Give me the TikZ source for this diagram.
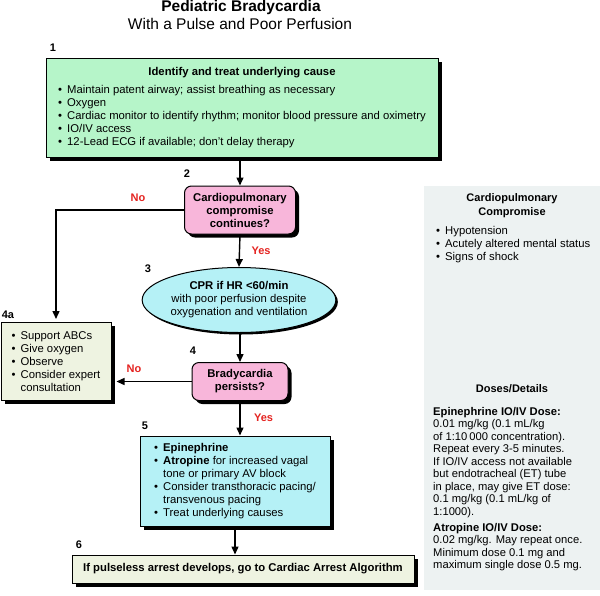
\documentclass[tikz,border=0pt]{standalone}
\usepackage{fontspec}
\setmainfont{Liberation Sans}
\usetikzlibrary{positioning, calc, arrows.meta, shapes.geometric, shadows}
\definecolor{Mint}{HTML}{B6F5C9}
\definecolor{Rosa}{HTML}{F8B6DA}
\definecolor{Ciano}{HTML}{B5F1F6}
\definecolor{Crema}{HTML}{EEF3E1}
\definecolor{Nebbia}{HTML}{EDF2F2}
\definecolor{Rosso}{HTML}{E42320}
\newcommand{\bul}{\makebox[9pt][l]{\textbullet}}
\newcommand{\cont}{\hspace*{9pt}}
\tikzset{
    body/.style={font=\fontsize{11.3}{13}\selectfont},
    ombra/.style={drop shadow={shadow xshift=3.5pt, shadow yshift=-3.5pt, fill=black, opacity=1}},
    boxnode/.style={rectangle, draw=black, line width=1pt, inner sep=0pt, ombra, body, align=left},
    decnode/.style={rectangle, rounded corners=7pt, draw=black, line width=1pt, fill=Rosa, inner sep=0pt, ombra, align=center, font=\fontsize{11.3}{13}\selectfont\bfseries},
    stepnum/.style={font=\fontsize{11}{13}\selectfont\bfseries},
    answer/.style={font=\fontsize{11}{13}\selectfont\bfseries, text=Rosso},
    arrow/.style={-{Triangle[length=8pt,width=7pt]}, line width=1.4pt},
}
\begin{document}
\begin{tikzpicture}[x=1pt, y=-1pt]
    \useasboundingbox (0,0) rectangle (600,595);
    % Titolo
    \node[anchor=base, font=\fontsize{15.5}{18}\selectfont\bfseries] (title) at (241,11) {Pediatric Bradycardia};
    \node[anchor=base, font=\fontsize{15.5}{18}\selectfont] (subtitle) at (240,29.5) {With a Pulse and Poor Perfusion};

    % Pannello laterale
    \node[fill=Nebbia, minimum width=176pt, minimum height=404pt, inner sep=0pt] (panel) at (512,388) {};
    \node[align=center, font=\fontsize{11}{14}\selectfont\bfseries] (cpc) at (512,206) {Cardiopulmonary\\Compromise};
    \node[anchor=west, align=left, body, inner sep=0pt] (cplist) at (436,245) {\bul Hypotension\\\bul Acutely altered mental status\\\bul Signs of shock};
    \node[font=\fontsize{11}{13}\selectfont\bfseries] (doses) at (512,389) {Doses/Details};
    \node[anchor=north west, align=left, inner sep=0pt, font=\fontsize{11.2}{12.5}\selectfont] (dosetext) at (433,407) {\textbf{Epinephrine IO/IV Dose:}\\
        0.01 mg/kg (0.1 mL/kg\\
        of 1:10\,000 concentration).\\
        Repeat every 3-5 minutes.\\
        If IO/IV access not available\\
        but endotracheal (ET) tube\\
        in place, may give ET dose:\\
        0.1 mg/kg (0.1 mL/kg of\\
        1:1000).\\[3.5pt]
        \textbf{Atropine IO/IV Dose:}\\
        0.02 mg/kg. May repeat once.\\
        Minimum dose 0.1 mg and\\
        maximum single dose 0.5 mg.};

    % Riquadri
    \node[boxnode, fill=Mint, minimum width=392pt, minimum height=99pt] (b1) at (242,107.5) {\begin{tabular}{@{}l@{}}
        \multicolumn{1}{@{}c@{}}{\bfseries Identify and treat underlying cause}\\[5pt]
        \bul Maintain patent airway; assist breathing as necessary\\
        \bul Oxygen\\
        \bul Cardiac monitor to identify rhythm; monitor blood pressure and oximetry\\
        \bul IO/IV access\\
        \bul 12-Lead ECG if available; don't delay therapy
        \end{tabular}};
    \node[decnode, minimum width=111pt, minimum height=48pt] (b2) at (240,210) {Cardiopulmonary\\compromise\\continues?};
    \node[ellipse, draw=black, line width=1pt, fill=Ciano, minimum width=192pt, minimum height=65pt, inner sep=0pt, align=center, body,
          drop shadow={shadow xshift=2pt, shadow yshift=-2pt, fill=black, opacity=1}] (b3) at (239,300)
          {\textbf{CPR if HR <60/min}\\with poor perfusion despite\\oxygenation and ventilation};
    \node[decnode, minimum width=96pt, minimum height=38pt] (b4) at (240,381.5) {Bradycardia\\persists?};
    \node[boxnode, fill=Crema, minimum width=110pt, minimum height=78pt] (b4a) at (56,361.5) {\bul Support ABCs\\\bul Give oxygen\\\bul Observe\\\bul Consider expert\\\cont consultation};
    \node[boxnode, fill=Ciano, minimum width=190pt, minimum height=90pt] (b5) at (235,481) {\bul \textbf{Epinephrine}\\
        \bul \textbf{Atropine} for increased vagal\\
        \cont tone or primary AV block\\
        \bul Consider transthoracic pacing/\\
        \cont transvenous pacing\\
        \bul Treat underlying causes};
    \node[boxnode, fill=Crema, minimum width=342pt, minimum height=28pt, font=\fontsize{11.3}{13}\selectfont\bfseries] (b6) at (243,569) {If pulseless arrest develops, go to Cardiac Arrest Algorithm};

    % Numeri
    \node[stepnum] (n1) at (53,48) {1};
    \node[stepnum] (n2) at (187,174) {2};
    \node[stepnum] (n3) at (148,269) {3};
    \node[stepnum] (n4) at (193,351) {4};
    \node[stepnum] (n4a) at (8,315) {4a};
    \node[stepnum] (n5) at (145,426) {5};
    \node[stepnum] (n6) at (79,545) {6};

    % Frecce
    \draw[arrow] (b1.south -| b2.north) -- (b2.north);
    \draw[arrow, shorten >=3pt] (b2.west) -- node[answer, pos=0.36, above=4pt] (no2) {No} (b2.west -| b4a.north) -- (b4a.north);
    \draw[arrow] (b2.south) -- node[answer, right=8pt] (yes2) {Yes} (b3.north);
    \draw[arrow] (b4.north |- b3.south) -- (b4.north);
    \draw[arrow, shorten >=5pt] (b4.west) -- node[answer, pos=0.72, above=5pt] (no4) {No} (b4.west -| b4a.east);
    \draw[arrow] (b4.south) -- node[answer, right=10pt] (yes4) {Yes} (b4.south |- b5.north);
    \draw[arrow] (b5.south) -- (b5.south |- b6.north);
\end{tikzpicture}
\end{document}
